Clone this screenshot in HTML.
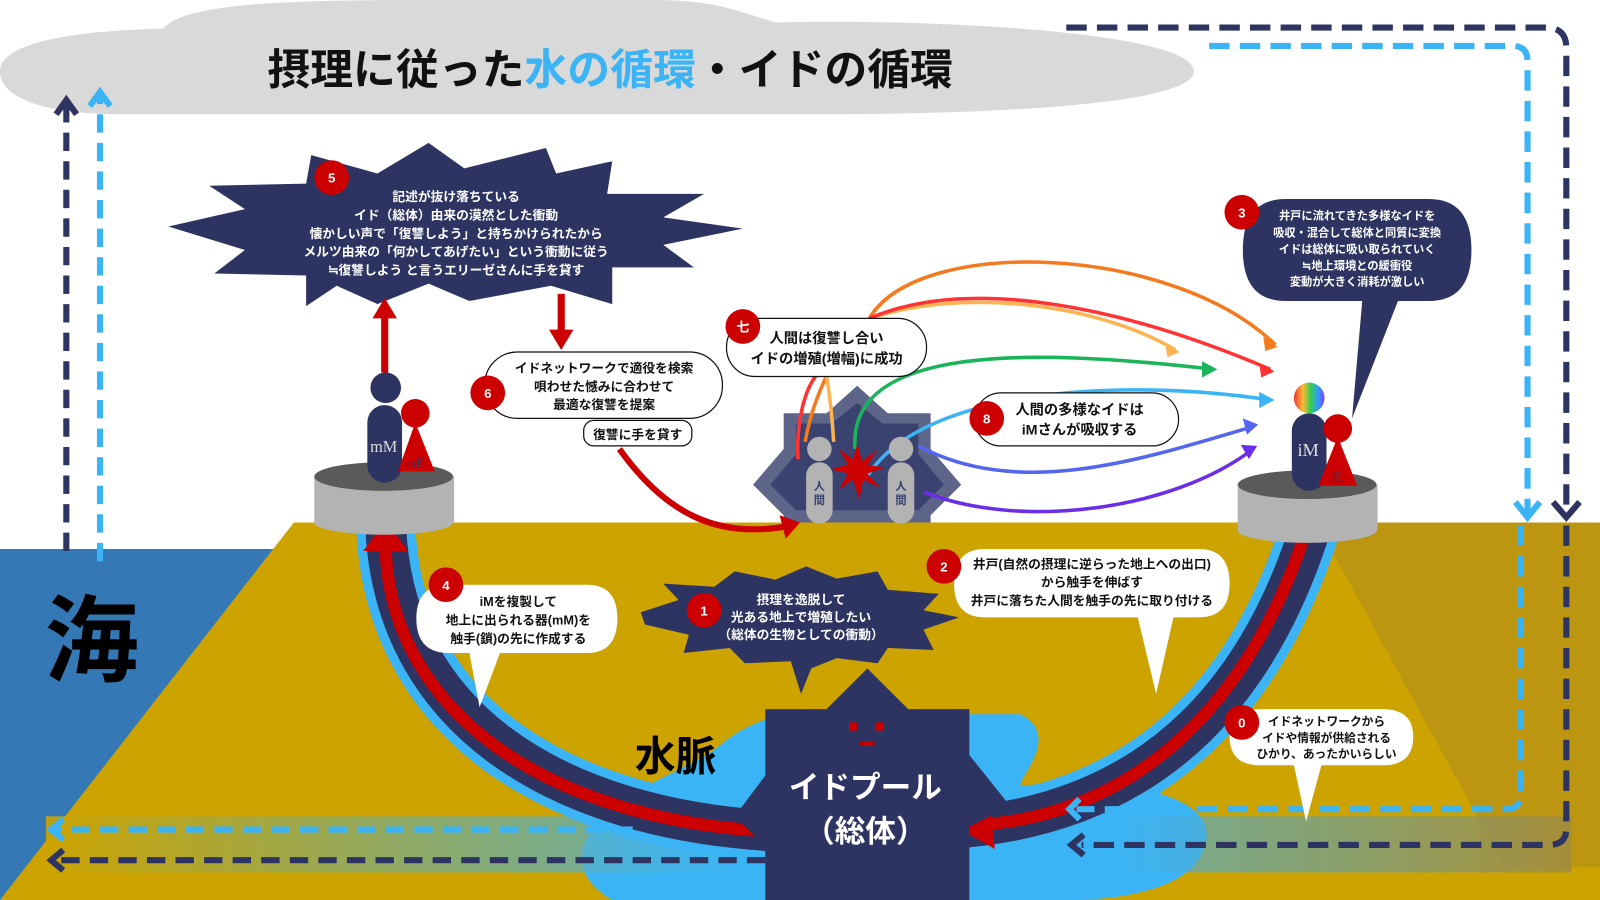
<!DOCTYPE html>
<html><head><meta charset="utf-8"><style>
html,body{margin:0;padding:0;background:#fff;}
svg{display:block;}
text{font-family:"Liberation Sans","Noto Sans CJK JP",sans-serif;font-weight:bold;}
</style></head><body>
<svg width="1600" height="900" viewBox="0 0 1568 882" preserveAspectRatio="none" xmlns="http://www.w3.org/2000/svg">
<defs>
<linearGradient id="band" x1="0" x2="1" y1="0" y2="0">
<stop offset="0" stop-color="#cca300" stop-opacity="0.9"/>
<stop offset="0.45" stop-color="#3bb4f5" stop-opacity="0.7"/>
<stop offset="0.7" stop-color="#3bb4f5" stop-opacity="0.6"/>
<stop offset="1" stop-color="#a08a40" stop-opacity="0.8"/>
</linearGradient>
<linearGradient id="rb" x1="0" x2="1"><stop offset="0" stop-color="#e33"/><stop offset=".3" stop-color="#fb3"/><stop offset=".55" stop-color="#3c5"/><stop offset=".8" stop-color="#39f"/><stop offset="1" stop-color="#83f"/></linearGradient>
</defs>
<rect width="1568" height="882" fill="#fff"/>
<path d="M0 70 C0 40 80 30 160 28 C180 5 260 0 420 0 L640 0 C700 0 720 10 760 22 C900 18 1170 30 1170 70 C1170 100 1000 112 800 112 L120 112 C40 112 0 95 0 70Z" fill="#d9d9d9"/>
<text x="262" y="83" font-size="42" fill="#111">摂理に従った<tspan fill="#3bb4f5">水の循環</tspan>・イドの循環</text>
<rect x="0" y="538" width="300" height="344" fill="#3479b5"/>
<polygon points="840,378 870,405 912,405 912,440 942,475 912,505 912,512 768,512 768,505 738,475 768,440 768,405 810,405" fill="#5d6589"/>
<polygon points="840,395 865,415 900,415 900,445 925,475 900,500 780,500 755,475 780,445 780,415 815,415" fill="#3a4270"/>
<polygon points="288,512 1568,512 1568,882 0,882" fill="#cca300"/>
<polygon points="1290,512 1568,512 1568,850 1475,850" fill="#8a7040" opacity="0.25"/>
<path d="M700 735 C740 700 770 700 800 700 L1000 700 C1040 720 1000 760 1000 770 C1100 760 1200 780 1180 830 C1170 870 1100 882 1050 882 L600 882 C560 860 560 820 600 800 C620 770 660 760 700 735Z" fill="#3bb4f5"/>
<rect x="45" y="800" width="1495" height="55" fill="url(#band)"/>
<path d="M378 515 C385 700 540 805 770 815" fill="none" stroke="#3bb4f5" stroke-width="58"/>
<path d="M378 515 C385 700 540 805 770 815" fill="none" stroke="#2d3461" stroke-width="40"/>
<path d="M378 540 C385 700 540 805 760 815" fill="none" stroke="#cc0000" stroke-width="12"/>
<polygon points="378,510 400,540 356,540" fill="#cc0000"/>
<path d="M1285 515 C1230 690 1120 800 930 812" fill="none" stroke="#3bb4f5" stroke-width="58"/>
<path d="M1285 515 C1230 690 1120 800 930 812" fill="none" stroke="#2d3461" stroke-width="40"/>
<path d="M1280 520 C1225 690 1115 795 965 808" fill="none" stroke="#cc0000" stroke-width="12"/>
<polygon points="940,812 970,790 975,832" fill="#cc0000"/>
<g fill="none" stroke-width="6">
<path d="M65 540 L65 100" stroke="#2d3461" stroke-dasharray="18 10"/>
<path d="M55 112 L65 98 L75 112" stroke="#2d3461"/>
<path d="M98 550 L98 92" stroke="#3bb4f5" stroke-dasharray="18 10"/>
<path d="M88 104 L98 90 L108 104" stroke="#3bb4f5"/>
<path d="M1045 27 L1515 27 Q1535 27 1535 47 L1535 505" stroke="#2d3461" stroke-dasharray="20 10"/>
<path d="M1522 492 L1535 507 L1548 492" stroke="#2d3461"/>
<path d="M1535 515 L1535 812 Q1535 828 1518 828 L1060 828" stroke="#2d3461" stroke-dasharray="20 10"/>
<path d="M1062 818 L1050 828 L1062 838" stroke="#2d3461"/>
<path d="M1185 45 L1482 45 Q1497 45 1497 60 L1497 505" stroke="#3bb4f5" stroke-dasharray="20 10"/>
<path d="M1485 492 L1497 507 L1509 492" stroke="#3bb4f5"/>
<path d="M1490 515 L1490 780 Q1490 793 1475 793 L1055 793" stroke="#3bb4f5" stroke-dasharray="20 10"/>
<path d="M1058 783 L1048 793 L1058 803" stroke="#3bb4f5"/>
<path d="M620 813 L55 813" stroke="#3bb4f5" stroke-dasharray="18 10"/>
<path d="M62 803 L50 813 L62 823" stroke="#3bb4f5"/>
<path d="M750 843 L55 843" stroke="#2d3461" stroke-dasharray="18 10"/>
<path d="M62 833 L50 843 L62 853" stroke="#2d3461"/>
</g>
<text x="90" y="660" font-size="92" fill="#000" text-anchor="middle">海</text>
<text x="662" y="755" font-size="40" fill="#000" text-anchor="middle">水脈</text>
<polygon points="850,655 890,695 950,695 950,740 990,790 950,810 950,882 750,882 750,830 720,800 750,760 750,695 810,695" fill="#2d3461"/>
<rect x="832" y="708" width="8" height="8" fill="#cc0000"/><rect x="858" y="708" width="8" height="8" fill="#cc0000"/><rect x="843" y="727" width="14" height="4" fill="#cc0000"/>
<text x="848" y="782" font-size="30" fill="#fff" text-anchor="middle">イドプール</text>
<text x="848" y="825" font-size="30" fill="#fff" text-anchor="middle">（総体）</text>
<polygon points="628,600 665,588 650,572 700,575 720,560 760,568 790,555 820,567 860,560 870,578 920,582 905,598 940,605 905,617 915,637 870,635 860,650 820,645 795,655 785,680 775,648 730,650 715,635 670,640 675,622 632,612" fill="#2d3461"/>
<g font-size="12.5" fill="#fff" text-anchor="middle"><text x="785" y="592">摂理を逸脱して</text><text x="785" y="609">光ある地上で増殖したい</text><text x="785" y="626">（総体の生物としての衝動）</text></g>
<polygon points="165,222 240,205 205,182 300,180 305,152 370,170 420,140 455,165 535,145 545,170 600,158 595,190 690,190 650,213 728,224 650,240 680,262 600,262 600,298 540,280 460,295 420,278 370,298 330,280 300,300 300,270 210,268 240,245" fill="#2d3461"/>
<g font-size="12.5" fill="#fff" text-anchor="middle"><text x="447" y="197">記述が抜け落ちている</text><text x="447" y="215">イド（総体）由来の漠然とした衝動</text><text x="447" y="233">懐かしい声で「復讐しよう」と持ちかけられたから</text><text x="447" y="251">メルツ由来の「何かしてあげたい」という衝動に従う</text><text x="447" y="269">≒復讐しよう と言うエリーゼさんに手を貸す</text></g>
<path d="M377 365 L377 310" stroke="#cc0000" stroke-width="7"/><polygon points="377,292 365,312 389,312" fill="#cc0000"/>
<path d="M550 288 L550 325" stroke="#cc0000" stroke-width="7"/><polygon points="550,343 538,323 562,323" fill="#cc0000"/>
<path d="M607 440 C650 500 700 530 775 515" fill="none" stroke="#cc0000" stroke-width="6"/><polygon points="784,512 764,505 770,528" fill="#cc0000"/>
<g fill="none" stroke-width="3.5">
<path d="M852 312 C900 230 1150 240 1250 338" stroke="#f47a20"/>
<path d="M852 312 C950 280 1080 300 1152 343" stroke="#fbb450"/>
<path d="M852 312 C950 270 1100 300 1245 362" stroke="#f33"/>
<path d="M838 440 C830 340 1000 340 1190 362" stroke="#1bb45a"/>
<path d="M848 470 C900 380 1100 370 1245 392" stroke="#3bb4f5"/>
<path d="M900 437 C1000 490 1120 450 1228 418" stroke="#5566ee"/>
<path d="M905 482 C1000 520 1150 500 1228 440" stroke="#6a2ee8"/>
<path d="M782 450 C780 410 790 380 800 368" stroke="#f33"/>
<path d="M789 433 C795 400 805 380 810 368" stroke="#f47a20"/>
<path d="M817 433 C815 400 812 380 810 368" stroke="#fbb450"/>
</g>
<g>
<polygon points="1252,340 1238,330 1240,344" fill="#f47a20"/>
<polygon points="1156,345 1142,336 1144,350" fill="#fbb450"/>
<polygon points="1249,364 1234,356 1236,370" fill="#f33"/>
<polygon points="1193,362 1178,354 1178,370" fill="#1bb45a"/>
<polygon points="1249,392 1234,384 1234,400" fill="#3bb4f5"/>
<polygon points="1233,416 1218,410 1222,426" fill="#5566ee"/>
<polygon points="1232,437 1216,436 1224,450" fill="#6a2ee8"/>
</g>
<g fill="#b3b3b3"><circle cx="803" cy="440" r="12"/><rect x="790" y="453" width="26" height="60" rx="13"/><circle cx="883" cy="440" r="12"/><rect x="870" y="453" width="26" height="60" rx="13"/></g>
<g font-size="11" fill="#3a4270" text-anchor="middle"><text x="803" y="480">人</text><text x="803" y="494">間</text><text x="883" y="480">人</text><text x="883" y="494">間</text></g>
<polygon points="840,435 845,452 860,440 850,456 868,458 850,464 862,478 846,470 842,490 836,470 822,480 831,464 814,460 831,455 822,440 836,450" fill="#cc0000"/>
<g><rect x="308" y="467" width="137" height="45" fill="#b3b3b3"/><ellipse cx="376" cy="512" rx="68" ry="12" fill="#b3b3b3"/><ellipse cx="376" cy="467" rx="68" ry="14" fill="#5a5a5a"/></g>
<g><rect x="1213" y="475" width="137" height="45" fill="#b3b3b3"/><ellipse cx="1281" cy="520" rx="68" ry="12" fill="#b3b3b3"/><ellipse cx="1281" cy="475" rx="68" ry="14" fill="#5a5a5a"/></g>
<circle cx="378" cy="380" r="15" fill="#2d3461"/><rect x="360" y="397" width="34" height="76" rx="17" fill="#2d3461"/>
<circle cx="407" cy="405" r="14" fill="#cc0000"/><polygon points="407,414 390,462 426,462" fill="#cc0000"/>
<text x="376" y="443" font-size="16" fill="#ddd" text-anchor="middle" style="font-family:'Liberation Serif';font-weight:normal">mM</text>
<text x="407" y="458" font-size="13" fill="#2d3461" text-anchor="middle" style="font-family:'Liberation Serif';font-weight:normal">mE</text>
<circle cx="1283" cy="390" r="15" fill="url(#rb)"/><rect x="1266" y="405" width="34" height="76" rx="17" fill="#2d3461"/>
<circle cx="1311" cy="420" r="14" fill="#cc0000"/><polygon points="1311,428 1292,476 1330,476" fill="#cc0000"/>
<text x="1282" y="447" font-size="18" fill="#ddd" text-anchor="middle" style="font-family:'Liberation Serif';font-weight:normal">iM</text>
<text x="1309" y="472" font-size="13" fill="#2d3461" text-anchor="middle" style="font-family:'Liberation Serif';font-weight:normal">iE</text>
<path d="M1260 195 L1400 195 Q1442 195 1442 245 Q1442 295 1400 295 L1370 295 L1325 410 L1335 295 L1260 295 Q1218 295 1218 245 Q1218 195 1260 195Z" fill="#2d3461"/>
<g font-size="11" fill="#fff" text-anchor="middle"><text x="1330" y="215">井戸に流れてきた多様なイドを</text><text x="1330" y="232">吸収・混合して総体と同質に変換</text><text x="1330" y="248">イドは総体に吸い取られていく</text><text x="1330" y="264">≒地上環境との緩衝役</text><text x="1330" y="280">変動が大きく消耗が激しい</text></g>
<g fill="#fff">
<path d="M965 538 L1175 538 Q1205 538 1205 572 Q1205 605 1175 605 L1150 605 L1133 680 L1115 605 L965 605 Q935 605 935 572 Q935 538 965 538Z"/>
<path d="M440 573 L575 573 Q605 573 605 606 Q605 640 575 640 L490 640 L470 693 L460 640 L440 640 Q408 640 408 606 Q408 573 440 573Z"/>
<path d="M1235 695 L1355 695 Q1385 695 1385 722 Q1385 750 1355 750 L1295 750 L1280 805 L1268 750 L1235 750 Q1205 750 1205 722 Q1205 695 1235 695Z"/>
</g>
<g fill="#fff" stroke="#111" stroke-width="1.2">
<rect x="475" y="345" width="233" height="65" rx="32"/>
<rect x="572" y="412" width="106" height="25" rx="10"/>
<rect x="712" y="312" width="196" height="57" rx="28"/>
<rect x="955" y="385" width="200" height="52" rx="26"/>
</g>
<g font-size="12.5" fill="#111" text-anchor="middle">
<text x="592" y="365">イドネットワークで適役を検索</text><text x="592" y="383">唄わせた憾みに合わせて</text><text x="592" y="401">最適な復讐を提案</text>
<text x="625" y="430">復讐に手を貸す</text>
<text x="810" y="336" font-size="14">人間は復讐し合い</text><text x="810" y="356" font-size="14">イドの増殖(増幅)に成功</text>
<text x="1058" y="406" font-size="14">人間の多様なイドは</text><text x="1058" y="426" font-size="14">iMさんが吸収する</text>
<text x="1070" y="557">井戸(自然の摂理に逆らった地上への出口)</text><text x="1070" y="575">から触手を伸ばす</text><text x="1070" y="593">井戸に落ちた人間を触手の先に取り付ける</text>
<text x="508" y="594">iMを複製して</text><text x="508" y="612">地上に出られる器(mM)を</text><text x="508" y="630">触手(鎖)の先に作成する</text>
<text x="1300" y="711" font-size="11.5">イドネットワークから</text><text x="1300" y="727" font-size="11.5">イドや情報が供給される</text><text x="1300" y="743" font-size="11.5">ひかり、あったかいらしい</text>
</g>
<g fill="#cc0000"><circle cx="325" cy="174" r="17"/><circle cx="1217" cy="208" r="17"/><circle cx="728" cy="320" r="17"/><circle cx="478" cy="385" r="17"/><circle cx="967" cy="410" r="17"/><circle cx="925" cy="555" r="17"/><circle cx="437" cy="573" r="17"/><circle cx="690" cy="598" r="17"/><circle cx="1217" cy="708" r="17"/></g>
<g font-size="13" fill="#fff" text-anchor="middle"><text x="325" y="179">5</text><text x="1217" y="213">3</text><text x="728" y="325">七</text><text x="478" y="390">6</text><text x="967" y="415">8</text><text x="925" y="560">2</text><text x="437" y="578">4</text><text x="690" y="603">1</text><text x="1217" y="713">0</text></g>
</svg>
</body></html>
